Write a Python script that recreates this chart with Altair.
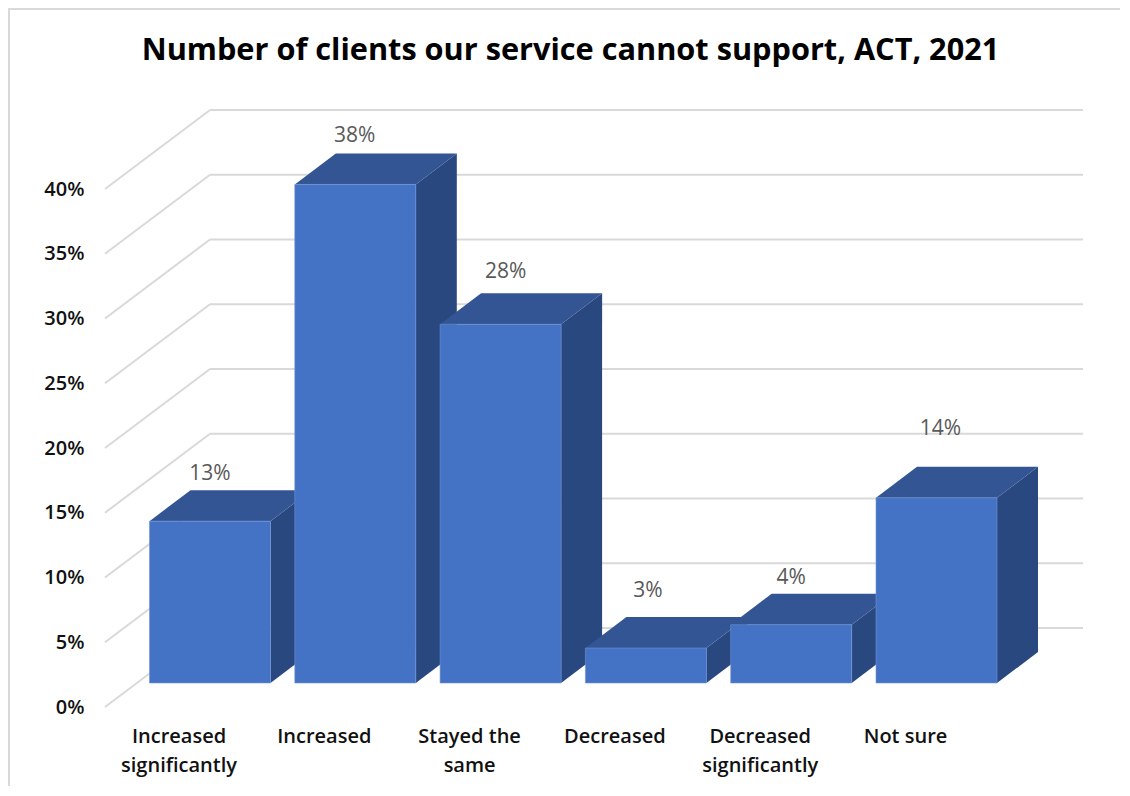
import altair as alt
import pandas as pd

# ---- chart values ----
title_text = "Number of clients our service cannot support, ACT, 2021"
categories = ["Increased significantly", "Increased", "Stayed the same",
              "Decreased", "Decreased significantly", "Not sure"]
category_lines = ["Increased|significantly", "Increased", "Stayed the|same",
                  "Decreased", "Decreased|significantly", "Not sure"]
bar_values = [12.5, 38.5, 27.7, 2.7, 4.5, 14.3]
bar_labels = ["13%", "38%", "28%", "3%", "4%", "14%"]
label_heights = [18.0, 44.1, 33.6, 8.95, 9.95, 21.45]
y_ticks = [0, 5, 10, 15, 20, 25, 30, 35, 40]

# ---- oblique projection, in data units (category steps / percent) ----
STEP, PCT = 145.3, 12.95      # px per category, px per percentage point
WALL_DX, WALL_DY = 105 / STEP, 79 / PCT
WALL_START, WALL_END = (210 - 180) / STEP, (1083 - 180) / STEP
BAR_SHIFT, BAR_W = -30.5 / STEP, 121 / STEP
BAR_DX, BAR_DY = 41 / STEP, 31 / PCT
FLOOR = 24 / PCT
LABEL_SHIFT = [0.206, 0.203, 0.241, 0.22, 0.206, 0.234]

FRONT, TOP, SIDE = "#4472C4", "#335593", "#2A4880"
GRID = "#D9D9D9"
FONT = "Open Sans"

L, T, W, H = 97, 82, 985, 630
xs = alt.Scale(domain=[(105 - 180) / STEP, (105 + W - 180) / STEP], nice=False, zero=False)
ys = alt.Scale(domain=[(707 - (90 + H)) / PCT, (707 - 90) / PCT], nice=False, zero=False)

label_array = "[" + ",".join(f"'{s}'" for s in category_lines) + "]"
x_axis = alt.Axis(
    values=list(range(len(categories))), grid=False, domain=False, ticks=False, title=None,
    labelExpr=f"split({label_array}[datum.value], '|')",
    labelFont=FONT, labelFontSize=20, labelFontWeight=600, labelColor="#111111",
    labelPadding=6, labelLineHeight=29, labelFlush=False, labelOverlap=False,
    labelBound=False, labelBaseline="top", labelOffset=-1.5)
y_axis = alt.Axis(
    values=y_ticks, grid=False, domain=False, ticks=False, title=None,
    labelExpr="datum.value + '%'",
    labelFont=FONT, labelFontSize=20, labelFontWeight=600, labelColor="#111111",
    labelPadding=21, labelOverlap=False, labelBound=False, labelFlush=False)


def X(f="x"):
    return alt.X(f"{f}:Q", scale=xs, axis=x_axis)


def Y(f="y"):
    return alt.Y(f"{f}:Q", scale=ys, axis=y_axis)


# ---- tables built from the values ----
fronts, sides, tops = [], [], []
for i, v in enumerate(bar_values):
    x0 = i + BAR_SHIFT
    x1 = x0 + BAR_W
    top = FLOOR + v
    fronts.append(dict(x=x0, x2=x1, y=FLOOR, y2=top))
    for t in (0, 1):
        sides.append(dict(bar=i, x=x1 + t * BAR_DX, y=FLOOR + t * BAR_DY, y2=top + t * BAR_DY))
        tops.append(dict(bar=i, x=x0 + t * BAR_DX, x2=x1 + t * BAR_DX, y=top + t * BAR_DY))

slants = []
for v in y_ticks:
    for t in (0, 1):
        slants.append(dict(tick=v, x=WALL_START - WALL_DX + t * WALL_DX, y=v + t * WALL_DY))
walls = pd.DataFrame([dict(x=WALL_START, x2=WALL_END, y=v + WALL_DY) for v in y_ticks])
labels = pd.DataFrame([dict(x=i + LABEL_SHIFT[i], y=h, t=s)
                       for i, (h, s) in enumerate(zip(label_heights, bar_labels))])

grid_h = alt.Chart(walls).mark_rule(color=GRID, strokeWidth=2).encode(x=X(), x2="x2:Q", y=Y())
grid_s = alt.Chart(pd.DataFrame(slants)).mark_line(color=GRID, strokeWidth=2).encode(
    x=X(), y=Y(), detail="tick:N")
side = alt.Chart(pd.DataFrame(sides)).mark_area(color=SIDE, opacity=1, line=False).encode(
    x=X(), y=Y(), y2="y2:Q", detail="bar:N")
top = alt.Chart(pd.DataFrame(tops)).mark_area(color=TOP, opacity=1, orient="horizontal").encode(
    y=Y(), x=X(), x2="x2:Q", detail="bar:N")
front = alt.Chart(pd.DataFrame(fronts)).mark_rect(color=FRONT, stroke="#6E93D6", strokeWidth=0.6).encode(
    x=X(), x2="x2:Q", y=Y(), y2="y2:Q")
text = alt.Chart(labels).mark_text(font=FONT, fontSize=21, color="#595959", baseline="middle").encode(
    x=X(), y=Y(), text="t:N")

# chart-area frame, top and left edges only
frame_top = alt.Chart(pd.DataFrame({"a": [0]})).mark_rule(color=GRID, strokeWidth=2).encode(
    x=alt.value(-L), x2=alt.value(W + 30), y=alt.value(-T + 1))
frame_left = alt.Chart(pd.DataFrame({"a": [0]})).mark_rule(color=GRID, strokeWidth=2).encode(
    x=alt.value(-L + 1), y=alt.value(-T), y2=alt.value(H + 66))

chart = (
    alt.layer(grid_h, grid_s, side, top, front, text, frame_top, frame_left)
    .properties(
        width=W, height=H,
        padding={"left": L, "top": T, "right": 30, "bottom": 66},
        autosize=alt.AutoSizeParams(type="none"),
        background="white",
        title=alt.TitleParams(title_text, font=FONT, fontSize=30.7, fontWeight=700, color="#000000",
                              anchor="middle", dx=-27, offset=0, dy=60),
    )
    .configure_view(stroke=None)
)

chart.save("out.html", embed_options={"renderer": "svg", "actions": False})
